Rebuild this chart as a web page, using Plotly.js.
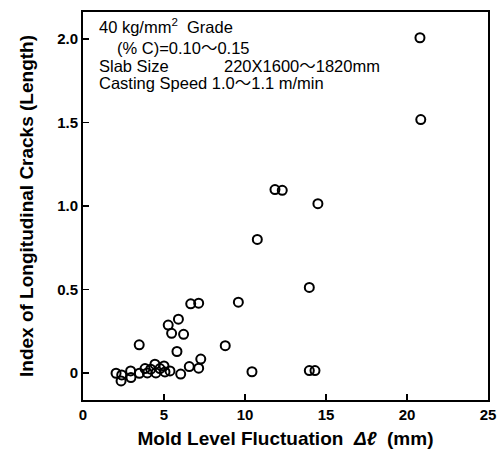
<!DOCTYPE html>
<html>
<head>
<meta charset="utf-8">
<script src="https://cdn.plot.ly/plotly-3.0.1.min.js"></script>
<style>html,body{margin:0;padding:0;background:#fff;}#chart{width:502px;height:452px;}</style>
</head>
<body>
<div id="chart"></div>
<script>
const moldLevelFluctuation = [2.04, 2.39, 2.35, 2.94, 2.96, 3.48, 3.83, 3.97, 4.18, 4.44, 4.5, 4.75, 5.0, 5.06, 5.37,
  3.47, 5.8, 6.03, 6.56, 7.14, 7.27, 5.26, 5.89, 5.47, 6.21, 8.78, 10.43, 6.65, 7.14, 9.59,
  13.97, 10.76, 14.5, 11.85, 12.3, 20.8, 20.85, 13.97, 14.32];
const crackIndex = [0.0, -0.01, -0.046, 0.014, -0.026, 0.0, 0.028, 0.002, 0.024, 0.054, 0.002, 0.028, 0.044, 0.008, 0.014,
  0.17, 0.13, -0.005, 0.04, 0.03, 0.085, 0.288, 0.323, 0.239, 0.233, 0.165, 0.009, 0.415, 0.419, 0.425,
  0.513, 0.80, 1.014, 1.098, 1.094, 2.006, 1.517, 0.016, 0.016];
const xTicks = [0, 5, 10, 15, 20, 25];
const xTickText = ["0", "5", "10", "15", "20", "25"];
const yTicks = [0, 0.5, 1.0, 1.5, 2.0];
const yTickText = ["0", "0.5", "1.0", "1.5", "2.0"];
const noteLines = [
  "40 kg/mm<sup>2</sup>  Grade",
  "(% C)=0.10～0.15",
  "Slab Size",
  "220X1600～1820mm",
  "Casting Speed 1.0～1.1 m/min"
];

const fam = '"Liberation Sans", Arial, "Noto Sans CJK JP", sans-serif';
const trace = {
  x: moldLevelFluctuation, y: crackIndex, type: 'scatter', mode: 'markers',
  marker: {symbol: 'circle-open', size: 9, color: '#000', line: {width: 2, color: '#000'}},
  hoverinfo: 'x+y'
};
const noteFont = {family: fam, size: 16.5, color: '#000'};
const layout = {
  width: 502, height: 452,
  margin: {l: 83, r: 14, t: 12, b: 52},
  paper_bgcolor: '#fff', plot_bgcolor: '#fff',
  showlegend: false,
  font: {family: fam, color: '#000'},
  xaxis: {
    range: [0, 25], tickvals: xTicks, ticktext: xTickText,
    ticks: 'inside', ticklen: 6, tickwidth: 1.5, tickcolor: '#000',
    showline: true, linecolor: '#000', linewidth: 2, mirror: true,
    showgrid: false, zeroline: false,
    tickfont: {family: fam, size: 15, weight: 'bold', color: '#000'},
    title: {text: 'Mold Level Fluctuation  <i>Δℓ</i>  (mm)', font: {family: fam, size: 19, weight: 'bold', color: '#000'}, standoff: 10}
  },
  yaxis: {
    range: [-0.16, 2.16], tickvals: yTicks, ticktext: yTickText,
    ticks: 'inside', ticklen: 6, tickwidth: 1.5, tickcolor: '#000',
    showline: true, linecolor: '#000', linewidth: 2, mirror: true,
    showgrid: false, zeroline: false,
    tickfont: {family: fam, size: 15, weight: 'bold', color: '#000'},
    title: {text: 'Index of Longitudinal Cracks (Length)', font: {family: fam, size: 19, weight: 'bold', color: '#000'}, standoff: 18}
  },
  annotations: [
    {text: noteLines[0], x: 0.035, y: 0.963},
    {text: noteLines[1], x: 0.079, y: 0.907},
    {text: noteLines[2], x: 0.035, y: 0.861},
    {text: noteLines[3], x: 0.343, y: 0.861},
    {text: noteLines[4], x: 0.035, y: 0.816}
  ].map(a => Object.assign({xref: 'paper', yref: 'paper', xanchor: 'left', yanchor: 'middle', showarrow: false, font: noteFont}, a))
};
Plotly.newPlot('chart', [trace], layout, {displayModeBar: false, staticPlot: true});
</script>
</body>
</html>
